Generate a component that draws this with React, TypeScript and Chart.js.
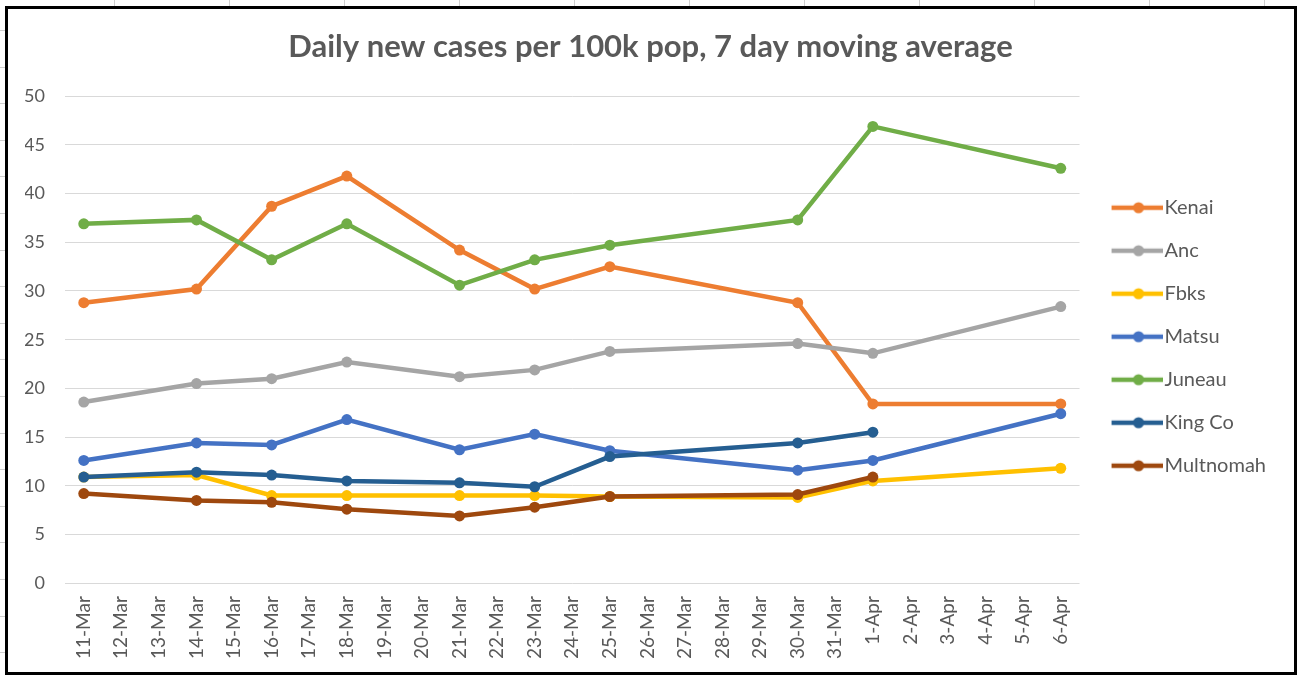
import React, { useEffect, useRef } from "react";
import { Chart, registerables } from "chart.js";

Chart.register(...registerables);

const _ = null;

const categories = [
  "11-Mar", "12-Mar", "13-Mar", "14-Mar", "15-Mar", "16-Mar", "17-Mar", "18-Mar", "19-Mar",
  "20-Mar", "21-Mar", "22-Mar", "23-Mar", "24-Mar", "25-Mar", "26-Mar", "27-Mar", "28-Mar",
  "29-Mar", "30-Mar", "31-Mar", "1-Apr", "2-Apr", "3-Apr", "4-Apr", "5-Apr", "6-Apr",
];

const kenai = [28.8, _, _, 30.2, _, 38.7, _, 41.8, _, _, 34.2, _, 30.2, _, 32.5, _, _, _, _, 28.8, _, 18.4, _, _, _, _, 18.4];
const anc = [18.6, _, _, 20.5, _, 21.0, _, 22.7, _, _, 21.2, _, 21.9, _, 23.8, _, _, _, _, 24.6, _, 23.6, _, _, _, _, 28.4];
const fbks = [10.9, _, _, 11.1, _, 9.0, _, 9.0, _, _, 9.0, _, 9.0, _, 8.9, _, _, _, _, 8.8, _, 10.5, _, _, _, _, 11.8];
const matsu = [12.6, _, _, 14.4, _, 14.2, _, 16.8, _, _, 13.7, _, 15.3, _, 13.6, _, _, _, _, 11.6, _, 12.6, _, _, _, _, 17.4];
const juneau = [36.9, _, _, 37.3, _, 33.2, _, 36.9, _, _, 30.6, _, 33.2, _, 34.7, _, _, _, _, 37.3, _, 46.9, _, _, _, _, 42.6];
const kingCo = [10.9, _, _, 11.4, _, 11.1, _, 10.5, _, _, 10.3, _, 9.9, _, 13.0, _, _, _, _, 14.4, _, 15.5, _, _, _, _, _];
const multnomah = [9.2, _, _, 8.5, _, 8.3, _, 7.6, _, _, 6.9, _, 7.8, _, 8.9, _, _, _, _, 9.1, _, 10.9, _, _, _, _, _];

const seriesNames = ["Kenai", "Anc", "Fbks", "Matsu", "Juneau", "King Co", "Multnomah"];
const seriesValues = [kenai, anc, fbks, matsu, juneau, kingCo, multnomah];
const seriesColors = ["#ED7D31", "#A5A5A5", "#FFC000", "#4472C4", "#70AD47", "#255E91", "#9E480E"];

const yTicks = [0, 5, 10, 15, 20, 25, 30, 35, 40, 45, 50];

const titleText = "Daily new cases per 100k pop, 7 day moving average";

const FONT = "Lato, 'Open Sans', sans-serif";
const TEXT_COLOR = "#595959";

function legendIcon(color: string) {
  const c = document.createElement("canvas");
  c.width = 68;
  c.height = 14;
  const ctx = c.getContext("2d")!;
  ctx.strokeStyle = color;
  ctx.lineWidth = 4.5;
  ctx.beginPath();
  ctx.moveTo(17, 7);
  ctx.lineTo(68, 7);
  ctx.stroke();
  ctx.fillStyle = color;
  ctx.beginPath();
  ctx.arc(44, 7, 5.5, 0, Math.PI * 2);
  ctx.fill();
  return c;
}

const legendShift = {
  id: "legendShift",
  afterLayout(chart: any) {
    if (chart.legend) {
      chart.legend.top -= 3;
      chart.legend.bottom -= 3;
    }
  },
};

export default function App() {
  const canvasRef = useRef<HTMLCanvasElement | null>(null);

  useEffect(() => {
    const canvas = canvasRef.current;
    if (!canvas) return;
    const icons = seriesColors.map((c) => legendIcon(c));
    const n = seriesNames.length;
    const chart = new Chart(canvas, {
      type: "line",
      data: {
        labels: categories,
        datasets: seriesNames.map((name, i) => ({
          label: name,
          data: seriesValues[i],
          borderColor: seriesColors[i],
          backgroundColor: seriesColors[i],
          pointBackgroundColor: seriesColors[i],
          pointBorderColor: seriesColors[i],
          borderWidth: 4.5,
          pointRadius: 5.5,
          pointBorderWidth: 0,
          pointHoverRadius: 5.5,
          spanGaps: true,
          tension: 0,
          fill: false,
          order: n - i,
        })),
      },
      plugins: [legendShift],
      options: {
        responsive: false,
        animation: false,
        layout: { padding: { left: 17, right: 18, top: 0, bottom: 0 } },
        plugins: {
          title: {
            display: true,
            text: titleText,
            color: TEXT_COLOR,
            font: { family: FONT, size: 31, weight: "bold" },
            padding: { top: 19, bottom: 31 },
          },
          legend: {
            display: true,
            position: "right",
            align: "center",
            fullSize: false,
            labels: {
              usePointStyle: true,
              pointStyleWidth: 52,
              padding: 23,
              color: TEXT_COLOR,
              font: { family: FONT, size: 20 },
              generateLabels: (ch: any) => {
                const items = (Chart as any).defaults.plugins.legend.labels.generateLabels(ch);
                return items.map((it: any) => ({ ...it, pointStyle: icons[it.datasetIndex] }));
              },
              sort: (a: any, b: any) => a.datasetIndex - b.datasetIndex,
            },
          },
          tooltip: { enabled: false },
        },
        scales: {
          x: {
            type: "category",
            offset: true,
            grid: { display: false, drawTicks: false },
            border: { display: false },
            ticks: {
              autoSkip: false,
              maxRotation: 90,
              minRotation: 90,
              color: TEXT_COLOR,
              font: { family: FONT, size: 19 },
              padding: 13,
            },
          },
          y: {
            min: 0,
            max: 50,
            afterBuildTicks: (axis: any) => {
              axis.ticks = yTicks.map((v) => ({ value: v }));
            },
            afterFit: (axis: any) => {
              axis.width = 40;
            },
            grid: { color: "#D9D9D9", lineWidth: 1, drawTicks: false },
            border: { display: false },
            ticks: {
              color: TEXT_COLOR,
              font: { family: FONT, size: 18 },
              padding: 20,
            },
          },
        },
      },
    } as any);
    return () => chart.destroy();
  }, []);

  return (
    <div
      style={{
        position: "fixed",
        left: 0,
        top: 0,
        width: 1299,
        height: 677,
        background: "#fff",
        overflow: "hidden",
      }}
    >
      <div
        style={{
          position: "absolute",
          left: 0,
          top: 0,
          width: 1299,
          height: 6,
          background: "repeating-linear-gradient(to right, transparent 0px, transparent 114px, #cfcfcf 114px, #cfcfcf 115px)",
        }}
      />
      <div
        style={{
          position: "absolute",
          left: 0,
          top: 0,
          width: 5,
          height: 677,
          background: "repeating-linear-gradient(to bottom, transparent 0px, transparent 30px, #cfcfcf 30px, #cfcfcf 31px, transparent 31px, transparent 36.6px)",
        }}
      />
      <div
        style={{
          position: "absolute",
          left: 5,
          top: 6,
          width: 1292,
          height: 669,
          border: "3px solid #000",
          boxSizing: "border-box",
          background: "#fff",
        }}
      >
        <canvas ref={canvasRef} width={1286} height={663} style={{ display: "block", width: 1286, height: 663 }} />
      </div>
    </div>
  );
}
